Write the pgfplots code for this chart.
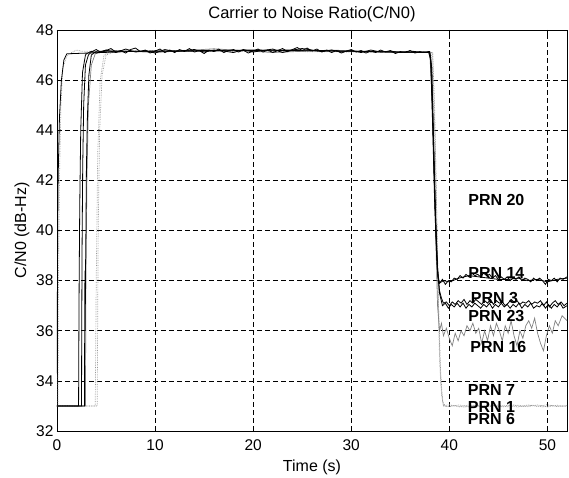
\documentclass[border=0pt]{standalone}
\usepackage{fontspec}
\setmainfont{Liberation Sans}
\usepackage{pgfplots}
\pgfplotsset{compat=1.18}

\definecolor{midgray}{gray}{0.5}
\definecolor{softgray}{gray}{0.6}
\newcommand{\tickfont}{\fontsize{15.5}{17}\selectfont}
\newcommand{\labelfont}{\fontsize{16}{18}\selectfont}
\newcommand{\titlefont}{\fontsize{16.5}{19}\selectfont}
\newcommand{\prn}{\fontsize{16}{17}\selectfont\bfseries}

\begin{document}
\begin{tikzpicture}
\begin{axis}[
  scale only axis,
  width=510pt, height=401pt,
  xmin=0, xmax=52, ymin=32, ymax=48,
  xtick={0,10,...,50}, ytick={32,34,...,48},
  grid=major,
  grid style={black, dash pattern=on 5pt off 3pt, line width=0.7pt},
  axis line style={black, line width=0.9pt},
  tick style={black, line width=0.7pt},
  tick align=inside,
  major tick length=5pt,
  /pgf/number format/assume math mode=true,
  tick label style={font=\tickfont},
  label style={font=\labelfont},
  title style={font=\titlefont, at={(0.5,1)}, anchor=base, yshift=5pt},
  title={Carrier to Noise Ratio(C/N0)},
  xlabel={Time (s)},
  ylabel={C/N0 (dB-Hz)},
  xlabel style={at={(0.5,0)}, anchor=base, yshift=-41pt},
  xticklabel style={yshift=-5pt},
]

% PRN 7 -- light dotted
\addplot[softgray, densely dotted, line width=0.7pt] coordinates {
(0,33.0)(1,33.02)(2,32.98)(3,33.0)(3.9,33.0)(4.0,38.0)(4.15,43.0)(4.4,46.0)(4.8,47.0)(5.5,47.15)
(15,47.2)(25,47.15)(38.2,47.1)(38.5,44.0)(38.8,38.0)(39.0,35.0)(39.2,33.5)(39.4,33.0)
(40,33.05)(41,32.96)(42,33.04)(43,32.98)(44,33.05)(45,32.97)(46,33.03)(47,32.96)(48,33.04)
(49,32.98)(50,33.05)(51,32.97)(52,33.02)};
% PRN 1 -- light dotted
\addplot[softgray, densely dotted, line width=0.7pt] coordinates {
(0,33.0)(4.1,33.0)(4.2,40.0)(4.35,44.0)(4.6,46.2)(5.0,47.0)(6.0,47.15)
(20,47.15)(38.3,47.1)(38.6,43.0)(38.9,37.0)(39.1,34.5)(39.3,33.2)(39.6,32.98)
(40.5,33.02)(41.5,32.95)(42.5,33.03)(43.5,32.97)(44.5,33.02)(45.5,32.96)(46.5,33.04)
(47.5,32.97)(48.5,33.03)(49.5,32.96)(50.5,33.02)(51.5,32.98)(52,33.0)};
% PRN 6 -- light dotted
\addplot[softgray, densely dotted, line width=0.7pt] coordinates {
(0,33.0)(0.1,33.0)(0.15,38.0)(0.25,42.0)(0.4,45.0)(0.6,46.5)(1.0,46.95)(1.5,47.1)(2.0,47.2)(2.5,47.15)
(10,47.15)(30,47.15)(38.3,47.1)(38.5,45.0)(38.7,41.0)(38.9,37.0)(39.1,34.0)(39.4,33.0)
(40,32.97)(41,33.04)(42,32.96)(43,33.03)(44,32.97)(45,33.04)(46,32.96)(47,33.03)(48,32.97)
(49,33.04)(50,32.96)(51,33.03)(52,32.98)};

% PRN 16 -- gray
\addplot[midgray, line width=0.7pt] coordinates {
(0,33.0)(2.9,33.0)(2.95,38.0)(3.05,42.0)(3.2,45.0)(3.5,46.6)(3.9,47.05)(5.0,47.2)
(10,47.1)(16,47.25)(22,47.1)(28,47.2)(34,47.1)(38.0,47.1)(38.3,45.0)(38.6,40.0)(38.8,37.0)
(39.0,36.0)(39.2,36.3)(39.4,35.8)(39.7,36.1)(40.0,35.7)(40.3,35.4)(40.6,35.9)(40.9,35.6)
(41.2,36.0)(41.5,35.8)(41.8,36.2)(42.1,36.0)(42.4,36.3)(42.7,35.9)(43.0,36.1)(43.3,35.5)
(43.6,36.0)(43.9,35.6)(44.2,36.2)(44.5,35.8)(44.8,36.3)(45.1,36.0)(45.4,35.6)(45.7,36.2)
(46.0,35.9)(46.3,36.4)(46.6,35.8)(46.9,35.4)(47.2,36.0)(47.5,35.7)(47.8,36.2)(48.1,36.4)
(48.4,36.1)(48.7,36.5)(49.0,35.9)(49.3,35.5)(49.6,35.2)(49.9,35.8)(50.2,36.2)(50.5,35.9)
(50.8,36.4)(51.1,36.2)(51.5,36.6)(52.0,36.4)};

% PRN 23 -- black, thick noisy rise
\addplot[black, line width=0.8pt] coordinates {
(0,33.0)(2.8,33.0)(2.82,35.6)(2.85,38.4)(2.88,36.0)(2.9,38.0)(2.95,40.0)(3.0,42.5)(3.1,44.5)
(3.25,46.2)(3.5,47.0)(4.0,47.15)(12,47.15)(24,47.2)(38.0,47.1)(38.2,46.5)(38.4,43.5)
(38.6,40.5)(38.8,38.4)(39.0,37.5)(39.3,37.0)(39.6,37.1)(39.9,36.9)(40.2,37.05)(40.5,36.95)
(40.8,37.1)(41.1,36.95)(41.4,37.1)(41.7,36.9)(42.0,37.05)(42.3,36.95)(42.6,37.1)(42.9,37.0)
(43.2,36.9)(43.5,37.05)(43.8,36.95)(44.1,37.1)(44.4,36.9)(44.7,37.05)(45.0,36.95)(45.3,37.1)
(45.6,36.95)(45.9,37.05)(46.2,36.9)(46.5,37.05)(46.8,36.95)(47.1,37.1)(47.4,36.9)(47.7,37.05)
(48.0,36.95)(48.3,37.1)(48.6,36.9)(48.9,37.0)(49.2,36.95)(49.5,37.1)(49.8,36.9)(50.1,37.05)
(50.4,36.9)(50.7,37.05)(51.0,36.95)(51.3,37.1)(51.6,36.9)(52.0,37.0)};

% PRN 20 -- black, acquired first
\addplot[black, line width=0.8pt] coordinates {
(0,34.3)(0.04,37.5)(0.08,40.5)(0.12,42.2)(0.25,44.5)(0.45,46.0)(0.7,46.8)(1.0,47.05)
(8,47.15)(20,47.2)(30,47.15)(37.9,47.1)(38.1,46.8)(38.3,44.2)(38.5,41.2)(38.7,39.0)
(38.85,38.1)(39.0,37.9)(39.4,38.0)(40,37.95)(41,38.1)(42,38.2)(43,38.15)(44,38.1)(45,38.05)
(46,38.05)(47,38.1)(48,38.0)(49,38.05)(50,37.95)(51,38.05)(52,38.1)};

% PRN 3 -- black
\addplot[black, line width=0.8pt] coordinates {
(0,33.0)(2.2,33.0)(2.22,35.0)(2.26,38.0)(2.32,41.0)(2.42,44.0)(2.6,46.3)(2.9,47.0)
(3.0,47.05)(3.5,47.15)(4.0,47.08)(5.0,47.2)(6.0,47.1)(7.0,47.24)(8.0,47.12)(9.0,47.18)
(10.0,47.08)(11.0,47.22)(12.0,47.14)(13.0,47.18)(14.0,47.22)(15.0,47.12)(16.0,47.2)
(17.0,47.16)(18.0,47.1)(19.0,47.22)(20.0,47.12)(21.0,47.18)(22.0,47.24)(23.0,47.1)
(24.0,47.2)(25.0,47.26)(26.0,47.2)(27.0,47.14)(28.0,47.2)(29.0,47.12)(30.0,47.18)
(31.0,47.1)(32.0,47.2)(33.0,47.12)(34.0,47.16)(35.0,47.1)(36.0,47.16)(37.0,47.12)
(38.0,47.14)(38.2,46.5)(38.4,43.5)(38.6,40.5)(38.8,38.5)(39.0,37.6)(39.2,37.3)(39.4,37.1)
(39.7,37.15)(40.0,37.0)(40.3,37.15)(40.6,37.05)(40.9,37.2)(41.2,37.1)(41.5,37.25)(41.8,37.05)
(42.1,37.2)(42.4,37.1)(42.7,37.25)(43.0,37.15)(43.3,37.05)(43.6,37.2)(43.9,37.1)(44.2,37.25)
(44.5,37.05)(44.8,37.2)(45.1,37.1)(45.4,37.15)(45.7,37.0)(46.0,37.1)(46.3,37.25)(46.6,37.15)
(46.9,37.2)(47.2,37.05)(47.5,37.15)(47.8,37.1)(48.1,37.2)(48.4,37.05)(48.7,37.15)(49.0,37.1)
(49.3,37.2)(49.6,37.0)(49.9,37.15)(50.2,36.95)(50.5,37.1)(50.8,37.2)(51.1,37.05)(51.4,37.15)
(51.7,37.0)(52.0,37.1)};

% PRN 14 -- black
\addplot[black, line width=0.8pt] coordinates {
(0,33.0)(2.5,33.0)(2.52,36.0)(2.56,39.5)(2.62,42.5)(2.72,45.0)(2.9,46.6)(3.2,47.0)
(3.5,47.12)(4.0,47.22)(4.5,47.1)(5.0,47.18)(5.5,47.26)(6.0,47.12)(6.5,47.18)(7.0,47.08)
(7.5,47.22)(8.0,47.28)(8.5,47.14)(9.0,47.2)(9.5,47.08)(10.0,47.16)(10.5,47.24)(11.0,47.1)
(11.5,47.2)(12.0,47.1)(12.5,47.22)(13.0,47.14)(13.5,47.26)(14.0,47.12)(14.5,47.18)
(15.0,47.06)(15.5,47.2)(16.0,47.14)(16.5,47.24)(17.0,47.1)(17.5,47.18)(18.0,47.22)
(18.5,47.12)(19.0,47.2)(19.5,47.08)(20.0,47.16)(20.5,47.24)(21.0,47.12)(21.5,47.2)
(22.0,47.1)(22.5,47.18)(23.0,47.26)(23.5,47.14)(24.0,47.22)(24.5,47.3)(25.0,47.18)
(25.5,47.28)(26.0,47.16)(26.5,47.24)(27.0,47.12)(27.5,47.2)(28.0,47.1)(28.5,47.18)
(29.0,47.08)(29.5,47.16)(30.0,47.22)(30.5,47.12)(31.0,47.18)(31.5,47.08)(32.0,47.16)
(32.5,47.1)(33.0,47.2)(33.5,47.12)(34.0,47.18)(34.5,47.06)(35.0,47.14)(35.5,47.1)
(36.0,47.18)(36.5,47.08)(37.0,47.14)(37.5,47.1)(38.0,47.12)(38.1,46.9)(38.3,44.5)
(38.5,41.5)(38.7,39.2)(38.85,38.2)(39.0,37.9)(39.3,38.05)(39.6,37.85)(39.9,38.0)
(40.2,37.95)(40.5,38.1)(40.8,38.05)(41.1,38.2)(41.4,38.1)(41.7,38.25)(42.0,38.15)
(42.3,38.3)(42.6,38.2)(42.9,38.25)(43.2,38.15)(43.5,38.3)(43.8,38.2)(44.1,38.25)
(44.4,38.1)(44.7,38.2)(45.0,38.05)(45.3,38.15)(45.6,38.05)(45.9,38.15)(46.2,38.0)
(46.5,38.1)(46.8,38.05)(47.1,38.15)(47.4,38.0)(47.7,38.1)(48.0,38.05)(48.3,37.95)
(48.6,38.1)(48.9,38.0)(49.2,38.1)(49.5,38.0)(49.8,37.85)(50.1,38.05)(50.4,38.0)
(50.7,38.1)(51.0,37.95)(51.3,38.1)(51.6,38.05)(52.0,38.15)};

% satellite tags
\node[font=\prn] at (axis cs:44.8,41.2) {PRN 20};
\node[font=\prn] at (axis cs:44.8,38.3) {PRN 14};
\node[font=\prn] at (axis cs:44.6,37.3) {PRN 3};
\node[font=\prn] at (axis cs:44.8,36.6) {PRN 23};
\node[font=\prn] at (axis cs:45.0,35.36) {PRN 16};
\node[font=\prn] at (axis cs:44.3,33.64) {PRN 7};
\node[font=\prn] at (axis cs:44.3,32.95) {PRN 1};
\node[font=\prn] at (axis cs:44.3,32.47) {PRN 6};
\end{axis}
\pgfresetboundingbox
\path ([shift={(-57pt,-47pt)}]current axis.south west) rectangle ([shift={(2pt,30pt)}]current axis.north east);
\end{tikzpicture}
\end{document}
